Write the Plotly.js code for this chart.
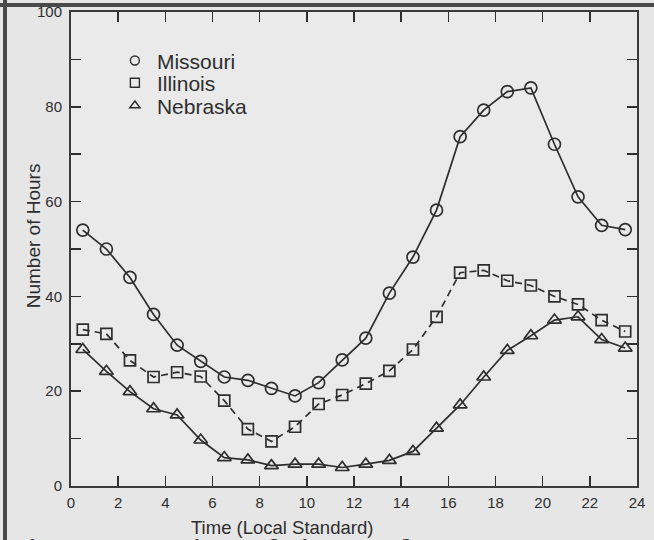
<!DOCTYPE html>
<html>
<head>
<meta charset="utf-8">
<script src="https://cdn.plot.ly/plotly-3.0.1.min.js"></script>
<style>
  html, body { margin: 0; padding: 0; background: #e6e6e6; }
  #wrap { position: relative; width: 654px; height: 540px; overflow: hidden; }
  #chart { position: absolute; left: 0; top: 0; width: 654px; height: 540px; }
  .bd { position: absolute; background: #4a4a4a; }
</style>
</head>
<body>
<div id="wrap">
  <div id="chart"></div>
  <div class="bd" style="left:0;top:3px;width:654px;height:4px;"></div>
  <div class="bd" style="left:3px;top:0;width:4px;height:540px;"></div>
</div>
<script>
// Hour midpoints (local standard time)
const hours = [0.5, 1.5, 2.5, 3.5, 4.5, 5.5, 6.5, 7.5, 8.5, 9.5, 10.5, 11.5,
               12.5, 13.5, 14.5, 15.5, 16.5, 17.5, 18.5, 19.5, 20.5, 21.5, 22.5, 23.5];

const missouri = [54, 50, 44, 36.2, 29.7, 26.3, 23, 22.3, 20.6, 19, 21.8, 26.6,
                  31.2, 40.7, 48.3, 58.2, 73.7, 79.3, 83.2, 84, 72.1, 61, 55, 54.1];
const illinois = [33, 32.1, 26.5, 23, 24, 23.1, 18, 12, 9.4, 12.5, 17.3, 19.2,
                  21.6, 24.3, 28.8, 35.7, 45, 45.5, 43.3, 42.3, 40, 38.3, 35, 32.6];
const nebraska = [28.8, 24.2, 19.9, 16.3, 15, 9.7, 6, 5.5, 4.3, 4.6, 4.6, 3.9,
                  4.6, 5.4, 7.3, 12.2, 17.1, 23, 28.6, 31.7, 35, 35.7, 30.9, 29.1];

const seriesNames = ["Missouri", "Illinois", "Nebraska"];
const xTickVals = [0, 2, 4, 6, 8, 10, 12, 14, 16, 18, 20, 22, 24];
const yTickVals = [0, 10, 20, 30, 40, 50, 60, 70, 80, 90, 100];
const yTickText = ["0", "", "20", "", "40", "", "60", "", "80", "", "100"];

const ink = "#2e2e2e";
const font = "Liberation Sans, Arial, Helvetica, sans-serif";

const styles = [
  { y: missouri, symbol: "circle-open", size: 12, dash: "solid", legend: "legend", ly: 0.897 },
  { y: illinois, symbol: "square-open", size: 11, dash: "7px,5px", legend: "legend2", ly: 0.850 },
  { y: nebraska, symbol: "triangle-up-open", size: 12, dash: "solid", legend: "legend3", ly: 0.802 }
];

const traces = [];
styles.forEach((s, i) => {
  traces.push({
    x: hours, y: s.y, type: "scatter", mode: "lines+markers",
    name: seriesNames[i], showlegend: false,
    line: { color: ink, width: 1.7, dash: s.dash },
    marker: { symbol: s.symbol, size: s.size, color: ink, line: { color: ink, width: 1.7 } }
  });
});
styles.forEach((s, i) => {
  traces.push({
    x: [null], y: [null], type: "scatter", mode: "markers",
    name: seriesNames[i], showlegend: true, legend: s.legend,
    marker: { symbol: s.symbol, size: 9, color: ink, line: { color: ink, width: 1.4 } }
  });
});

const layout = {
  width: 654, height: 540,
  margin: { l: 71, r: 17, t: 12, b: 54 },
  paper_bgcolor: "rgba(0,0,0,0)",
  plot_bgcolor: "#eaeaea",
  font: { family: font, color: ink, size: 15 },
  showlegend: true,
  xaxis: {
    range: [0, 24], tickvals: xTickVals, ticks: "inside", ticklen: 10, tickwidth: 1.5,
    tickcolor: ink, showline: true, linecolor: "#3a3a3a", linewidth: 2, mirror: "ticks",
    showgrid: false, zeroline: false, ticklabelstandoff: 2,
    tickfont: { family: font, size: 15, color: ink }
  },
  yaxis: {
    range: [0, 100], tickvals: yTickVals, ticktext: yTickText, ticks: "inside", ticklen: 10,
    tickwidth: 1.5, tickcolor: ink, showline: true, linecolor: "#3a3a3a", linewidth: 2,
    mirror: "ticks", showgrid: false, zeroline: false, ticklabelstandoff: 4,
    tickfont: { family: font, size: 15, color: ink }
  },
  annotations: [
    { text: "Time (Local Standard)", xref: "paper", yref: "paper",
      x: 0.373, y: -0.087, xanchor: "center", yanchor: "middle", showarrow: false,
      font: { family: font, size: 18.5, color: ink } },
    { text: "Number of Hours", xref: "paper", yref: "paper", textangle: -90,
      x: -0.067, y: 0.527, xanchor: "center", yanchor: "middle", showarrow: false,
      font: { family: font, size: 19, color: ink } },
    { text: "<b>Figure  3.  Number  of  hours  of  Type  1  events</b>", xref: "paper", yref: "paper",
      x: -0.105, y: -0.104, xanchor: "left", yanchor: "top", showarrow: false,
      font: { family: "Liberation Mono, DejaVu Sans Mono, monospace", size: 20, color: "#3a3a3a" } }
  ]
};

styles.forEach((s) => {
  layout[s.legend] = {
    x: 0.074, y: s.ly, xanchor: "left", yanchor: "middle",
    bgcolor: "rgba(0,0,0,0)", borderwidth: 0,
    font: { family: font, size: 21, color: ink },
    itemwidth: 34
  };
});

Plotly.newPlot("chart", traces, layout, { displayModeBar: false, staticPlot: true });
</script>
</body>
</html>
